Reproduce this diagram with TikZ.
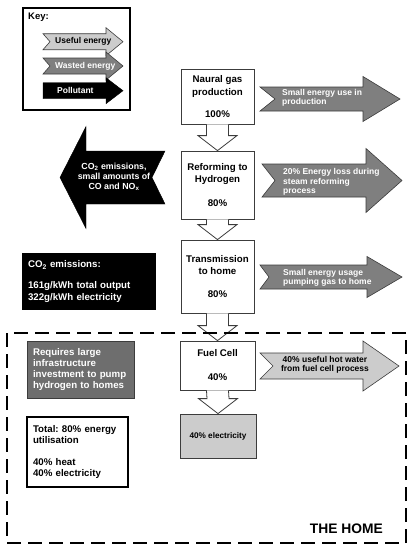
\documentclass[tikz,border=0pt]{standalone}
\usepackage{fontspec}
\setmainfont{Liberation Sans}
\frenchspacing
\usetikzlibrary{calc}
\definecolor{wastegray}{HTML}{7F7F7F}
\definecolor{usegray}{HTML}{CCCCCC}
\definecolor{notegray}{HTML}{6E6E6E}
\definecolor{edgegray}{HTML}{3C3C3C}

% fat arrow: style, tail x, head x, tip x, centre y, body half, head half, notch
\newcommand{\fatarrow}[8]{%
  \draw[#1] (#2,#5-#6) -- (#3,#5-#6) -- (#3,#5-#7) -- (#4,#5)
    -- (#3,#5+#7) -- (#3,#5+#6) -- (#2,#5+#6) -- (#2+#8,#5) -- cycle;}
% hollow flow arrow from one box down to the next
\newcommand{\flowdown}[2]{%
  \draw[hollow] ($(#1.south)+(-11,0)$) -- ($(#2.north)+(-11,-15)$)
    -- ($(#2.north)+(-19.5,-15)$) -- (#2.north) -- ($(#2.north)+(19.5,-15)$)
    -- ($(#2.north)+(11,-15)$) -- ($(#1.south)+(11,0)$);}

\begin{document}
\begin{tikzpicture}[
    x=1pt, y=-1pt,
    flowbox/.style={rectangle, draw=edgegray, fill=white, line width=0.8pt,
                    minimum width=73, inner sep=0, align=center,
                    font=\bfseries\fontsize{9.7}{12.5}\selectfont},
    hollow/.style={draw=edgegray, fill=white, line width=0.8pt},
    useful/.style={draw=edgegray, fill=usegray, line width=0.6pt},
    wasted/.style={draw=edgegray, fill=wastegray, line width=0.6pt},
    pollut/.style={draw=black, fill=black},
    arrtext/.style={inner sep=0, align=left,
                    font=\bfseries\fontsize{8.5}{9.4}\selectfont},
    notebox/.style={rectangle, inner xsep=6pt, inner ysep=0, align=left,
                    font=\bfseries\fontsize{9.7}{11.3}\selectfont},
    homeframe/.style={draw, line width=2.2pt, dash pattern=on 14pt off 7pt}
]
    \useasboundingbox (0,0) rectangle (412,550);

    % key
    \node[draw, line width=1.2pt, minimum width=107, minimum height=102,
          inner sep=0] (key) at (76.5,59) {};
    \node[anchor=north west, inner sep=0,
          font=\bfseries\fontsize{9.5}{11}\selectfont] (keylbl) at (28,13) {Key:};
    \fatarrow{useful}{43}{106}{123}{41.7}{8}{14}{7}
    \fatarrow{wasted}{43}{106}{123}{66}{8}{14}{7}
    \fatarrow{pollut}{43}{106}{123}{90.7}{8}{13}{0}
    \node[arrtext, anchor=west] (kuse)  at (55,41.7) {Useful energy};
    \node[arrtext, anchor=west, text=white] (kwaste) at (55,66) {Wasted energy};
    \node[arrtext, anchor=west, text=white] (kpoll)  at (57,90.7) {Pollutant};

    % main flow
    \node[flowbox, minimum height=55] (gas)    at (217.5,96.5)
        {Naural gas\\production\\[9.5pt]100\%};
    \node[flowbox, minimum height=68] (reform) at (217.5,185)
        {Reforming to\\Hydrogen\\[11pt]80\%};
    \node[flowbox, minimum height=73] (trans)  at (217.5,276.5)
        {Transmission\\to home\\[10.5pt]80\%};
    \node[flowbox, minimum width=75, minimum height=49] (fuel) at (217.5,365.5)
        {Fuel Cell\\[11.5pt]40\%};
    \node[flowbox, minimum width=76, minimum height=44, fill=usegray,
          font=\bfseries\fontsize{8.2}{9.4}\selectfont] (elec) at (218,436)
        {40\% electricity};

    \flowdown{gas}{reform}
    \flowdown{reform}{trans}
    \flowdown{trans}{fuel}
    \flowdown{fuel}{elec}

    % losses and outputs
    \fatarrow{wasted}{260}{363}{400}{99}{12}{22.5}{15}
    \node[arrtext, anchor=west, text=white] (lprod) at (282,98)
        {Small energy use in\\production};
    \fatarrow{wasted}{262}{366}{402}{180.5}{16.5}{32}{13}
    \node[arrtext, anchor=west, text=white] (lreform) at (283,182)
        {20\% Energy loss during\\steam reforming\\process};
    \fatarrow{wasted}{260}{367}{402}{277}{12}{20.5}{9}
    \node[arrtext, anchor=west, text=white] (lpump) at (283,278)
        {Small energy usage\\pumping gas to home};
    \fatarrow{useful}{260}{363}{399}{366}{13}{25}{13}
    \node[arrtext, align=center] (lheat) at (325,365)
        {40\% useful hot water\\from fuel cell process};

    \fatarrow{pollut}{165}{86}{60}{177.5}{26.5}{51}{0-13}
    \node[align=center, inner sep=0, text=white,
          font=\bfseries\fontsize{8.8}{10.3}\selectfont] (emit) at (114,177)
        {CO\textsubscript{2} emissions,\\small amounts of\\CO and NO\textsubscript{x}};

    % notes
    \node[notebox, fill=black, text=white, text width=122,
          minimum width=134, minimum height=57] (co2) at (89,281.5)
        {CO\textsubscript{2} emissions:\\[10pt]161g/kWh total output\\322g/kWh electricity};
    \node[notebox, fill=notegray, draw=edgegray, text=white, text width=95,
          minimum width=107, minimum height=57] (infra) at (80.5,369.5)
        {Requires large\\infrastructure\\investment to pump\\hydrogen to homes};
    \node[notebox, draw, line width=1.8pt, text width=89,
          minimum width=101, minimum height=70] (total) at (77.5,452)
        {Total: 80\% energy\\utilisation\\[11pt]40\% heat\\40\% electricity};

    % the home
    \node[homeframe, minimum width=399, minimum height=210, inner sep=0]
        (home) at (206.5,438) {};
    \node[anchor=base east, inner sep=0,
          font=\bfseries\fontsize{13.8}{16}\selectfont] (homelbl) at (383,533)
        {THE HOME};
\end{tikzpicture}
\end{document}
